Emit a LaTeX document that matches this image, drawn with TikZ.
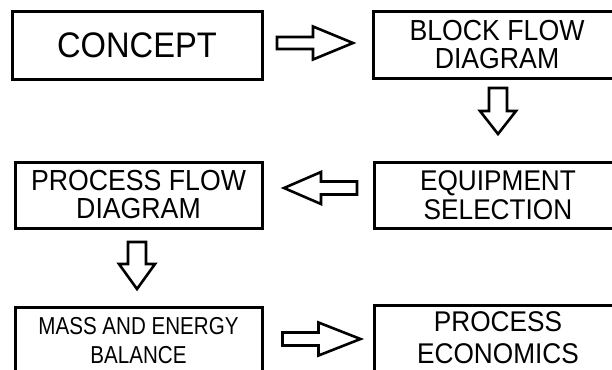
\documentclass[tikz,border=0pt]{standalone}
\usepackage{fontspec}
\setmainfont{Liberation Sans}
\newfontfamily\boxfont[FakeStretch=0.92]{Liberation Sans}
\newfontfamily\narrowfont[FakeStretch=0.84]{Liberation Sans}
\usetikzlibrary{calc}

\tikzset{
  stage/.style={draw, line width=3pt, minimum width=248pt, minimum height=66pt,
    inner sep=0pt, align=center, font=\boxfont\fontsize{29}{28}\selectfont},
  % hollow block arrow: length / shaft half width / head half width / head length
  pics/fatarrow/.style n args={4}{code={
    \draw[line width=2.6pt] (0,-#2) -- (#1-#4,-#2) -- (#1-#4,-#3) -- (#1,0)
      -- (#1-#4,#3) -- (#1-#4,#2) -- (0,#2) -- cycle;
  }},
}

\begin{document}
\begin{tikzpicture}[x=1pt, y=-1pt]
  \useasboundingbox (0,0) rectangle (612,369);
  \clip (0,0) rectangle (612,369);

  \node[stage, minimum width=250pt, minimum height=67pt, font=\boxfont\fontsize{35.5}{36}\selectfont] (concept) at (137,45.5) {CONCEPT};
  \node[stage] (bfd) at (497,45) {BLOCK FLOW\\DIAGRAM};
  \node[stage, font=\boxfont\fontsize{28.5}{29}\selectfont] (equip) at (498,195) {EQUIPMENT\\SELECTION};
  \node[stage, minimum width=247pt] (pfd) at (138.5,195) {PROCESS FLOW\\DIAGRAM};
  \node[stage, minimum width=247pt, font=\narrowfont\fontsize{24.5}{29}\selectfont] (mass) at (138.5,340.5) {MASS AND ENERGY\\BALANCE};
  \node[stage, font=\boxfont\fontsize{28.5}{32}\selectfont] (econ) at (498,338) {PROCESS\\ECONOMICS};

  \pic at ($(concept.east)+(13.5,-2.5)$) {fatarrow={76}{6}{16.5}{40}};
  \pic[rotate=-90] at ($(bfd.south)+(1,8.5)$) {fatarrow={46}{9}{18}{23}};
  \pic[rotate=180] at ($(equip.west)+(-15.5,-7)$) {fatarrow={73}{6.5}{16}{37}};
  \pic[rotate=-90] at ($(pfd.south)+(-1.5,12.5)$) {fatarrow={47}{9}{18}{25}};
  \pic at ($(mass.east)+(19,-1.5)$) {fatarrow={78}{6.5}{16.5}{42}};
\end{tikzpicture}
\end{document}
